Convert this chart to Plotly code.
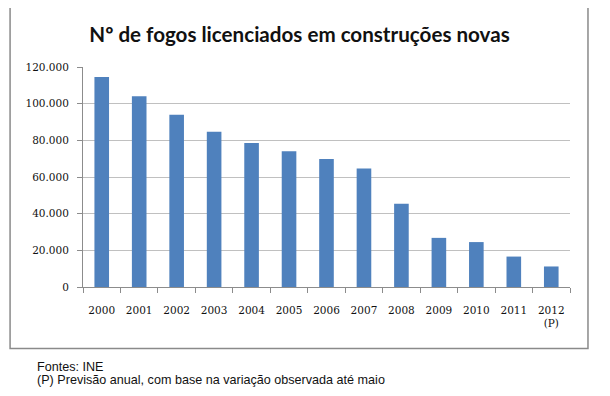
import plotly.graph_objects as go

years = ["2000", "2001", "2002", "2003", "2004", "2005", "2006",
         "2007", "2008", "2009", "2010", "2011", "2012"]
tick_text = ["2000", "2001", "2002", "2003", "2004", "2005", "2006",
             "2007", "2008", "2009", "2010", "2011", "2012<br>(P)"]
fogos = [114500, 104000, 94000, 84700, 78500, 74000, 69800,
         64700, 45400, 26800, 24500, 16600, 11200]
y_ticks = [0, 20000, 40000, 60000, 80000, 100000, 120000]

title = "Nº de fogos licenciados em construções novas"
note1 = "Fontes: INE"
note2 = "(P) Previsão anual, com base na variação observada até maio"

# the page body has an 8px margin: lay out in window pixels, shifted by OFF
OFF = 8
W, H = 610 - OFF, 396 - OFF
L, R, T, B = 83 - OFF, 570.5 - OFF, 67.3 - OFF, 287.5 - OFF
pw, ph = R - L, B - T

def px(x):
    return (x - OFF - L) / pw

def py(y):
    return (B - (y - OFF)) / ph

fig = go.Figure()
fig.add_trace(go.Bar(x=years, y=fogos, marker=dict(color="#4f81bd", line=dict(width=0)),
                     hoverinfo="x+y"))

fig.update_layout(
    width=W, height=H,
    margin=dict(l=L, r=W - R, t=T, b=H - B, pad=0),
    paper_bgcolor="white", plot_bgcolor="white",
    separators=",.",
    bargap=0.61,
    showlegend=False,
    title=dict(text=title, x=(299.5 - OFF) / W, xanchor="center", xref="container",
               y=1 - (35 - OFF) / H, yanchor="middle", yref="container",
               font=dict(family="Lato", size=20.6, color="#111111", weight="bold")),
    font=dict(family="DejaVu Serif", size=10.5, color="#111111"),
)

fig.update_xaxes(
    type="category", tickvals=years, ticktext=tick_text,
    tickson="boundaries", ticks="outside", ticklen=5, tickcolor="#8c8c8c",
    showline=True, linecolor="#8c8c8c", linewidth=1,
    showgrid=False, ticklabelstandoff=13,
)
fig.update_yaxes(
    range=[0, 120000], tickvals=y_ticks, tickformat=",d",
    ticks="outside", ticklen=5, tickcolor="#8c8c8c",
    showline=True, linecolor="#8c8c8c", linewidth=1,
    showgrid=True, gridcolor="#c0c0c0", gridwidth=1,
    zeroline=False, ticklabelstandoff=6,
)

# outer chart frame
fig.add_shape(type="rect", xref="paper", yref="paper",
              x0=px(10), x1=px(588.5), y0=py(349), y1=py(7.5),
              line=dict(color="#8a8a8a", width=1.5), fillcolor="rgba(0,0,0,0)",
              layer="below")

fig.add_annotation(text=note1, xref="paper", yref="paper", x=px(35), y=py(368),
                   xanchor="left", yanchor="middle", showarrow=False,
                   font=dict(family="Liberation Sans", size=12.6, color="#111111"))
fig.add_annotation(text=note2, xref="paper", yref="paper", x=px(35), y=py(381),
                   xanchor="left", yanchor="middle", showarrow=False,
                   font=dict(family="Liberation Sans", size=12.6, color="#111111"))

fig.write_html("out.html")
